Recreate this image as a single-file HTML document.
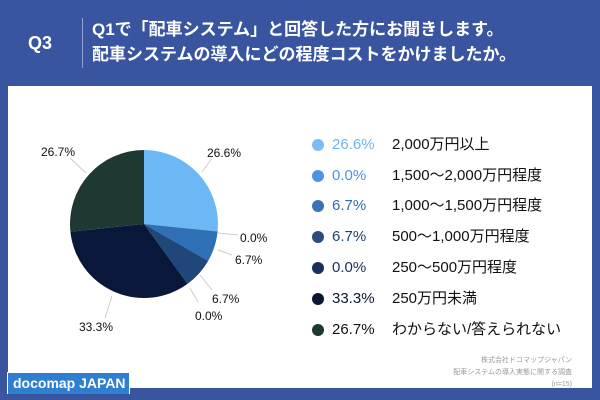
<!DOCTYPE html>
<html><head><meta charset="utf-8"><style>
body{margin:0;width:600px;height:400px;background:#3a55a0;position:relative;overflow:hidden;font-family:"Liberation Sans","Noto Sans CJK JP",sans-serif}
.q3{position:absolute;left:28px;top:33px;color:#fff;font-size:18px;font-weight:bold}
.bar{position:absolute;left:82px;top:18px;width:1px;height:50px;background:#8fa3d6}
.t{position:absolute;left:92px;top:17px;color:#fff;font-size:17px;font-weight:bold;line-height:25px;white-space:nowrap}
.panel{position:absolute;left:8px;top:86px;width:584px;height:302px;background:#fff}
.logo{position:absolute;left:7px;top:372px;width:116px;height:21px;background:#2f7fd0;border:1px solid #fff;border-bottom:none;color:#fff;font-weight:bold;font-size:14px;line-height:21px;padding-left:5px;white-space:nowrap}
.src{position:absolute;right:28px;top:355px;text-align:right;color:#999;font-size:7px;line-height:12px}
.leg{position:absolute;left:312px;font-size:15px;color:#111;height:20px;line-height:20px}
.leg i{position:absolute;left:0;top:4px;width:12px;height:12px;border-radius:50%}
.leg b{position:absolute;left:20px;font-weight:normal}
.leg span{position:absolute;left:80px;white-space:nowrap}
</style></head><body>
<div class="q3">Q3</div><div class="bar"></div>
<div class="t">Q1で「配車システム」と回答した方にお聞きします。<br>配車システムの導入にどの程度コストをかけましたか。</div>
<div class="panel"></div>
<svg style="position:absolute;left:0;top:0" width="600" height="400" font-family="Liberation Sans,sans-serif" font-size="12" fill="#111">
<path d="M144,224 L144,150 A74,74 0 0 1 217.6,231.5Z" fill="#6cb8f4"/>
<path d="M144,224 L217.6,231.5 A74,74 0 0 1 208.2,260.9Z" fill="#2f6fb5"/>
<path d="M144,224 L208.2,260.9 A74,74 0 0 1 187.5,283.9Z" fill="#1f477a"/>
<path d="M144,224 L187.5,283.9 A74,74 0 0 1 70.4,231.7Z" fill="#08173a"/>
<path d="M144,224 L70.4,231.7 A74,74 0 0 1 144,150Z" fill="#1e3834"/>
<g stroke="#ccc" stroke-width="1" fill="none">
<line x1="202" y1="172" x2="212" y2="158"/><line x1="218" y1="233" x2="238" y2="235"/>
<line x1="218" y1="250" x2="232" y2="255"/><line x1="200" y1="275" x2="212" y2="290"/>
<line x1="190" y1="288" x2="198" y2="302"/><line x1="112" y1="296" x2="105" y2="318"/>
<line x1="86" y1="173" x2="70" y2="158"/></g>
<text x="207" y="157">26.6%</text><text x="240" y="242">0.0%</text><text x="235" y="264">6.7%</text>
<text x="212" y="303">6.7%</text><text x="195" y="320">0.0%</text><text x="79" y="331">33.3%</text><text x="41" y="156">26.7%</text>
</svg>
<div class="leg" style="top:135px"><i style="background:#7cbcf4"></i><b style="color:#6cb4f4">26.6%</b><span>2,000万円以上</span></div>
<div class="leg" style="top:166px"><i style="background:#4d94e4"></i><b style="color:#4d94e4">0.0%</b><span>1,500〜2,000万円程度</span></div>
<div class="leg" style="top:196px"><i style="background:#3a73b5"></i><b style="color:#2f6bb0">6.7%</b><span>1,000〜1,500万円程度</span></div>
<div class="leg" style="top:227px"><i style="background:#2a4d80"></i><b style="color:#1f3f77">6.7%</b><span>500〜1,000万円程度</span></div>
<div class="leg" style="top:258px"><i style="background:#1a2f5a"></i><b style="color:#1a2f5a">0.0%</b><span>250〜500万円程度</span></div>
<div class="leg" style="top:289px"><i style="background:#0c1630"></i><b style="color:#0c1630">33.3%</b><span>250万円未満</span></div>
<div class="leg" style="top:320px"><i style="background:#1e3834"></i><b style="color:#111">26.7%</b><span>わからない/答えられない</span></div>
<div class="src">株式会社ドコマップジャパン<br>配車システムの導入実態に関する調査<br>(n=15)</div>
<div class="logo">docomap JAPAN</div>
</body></html>
